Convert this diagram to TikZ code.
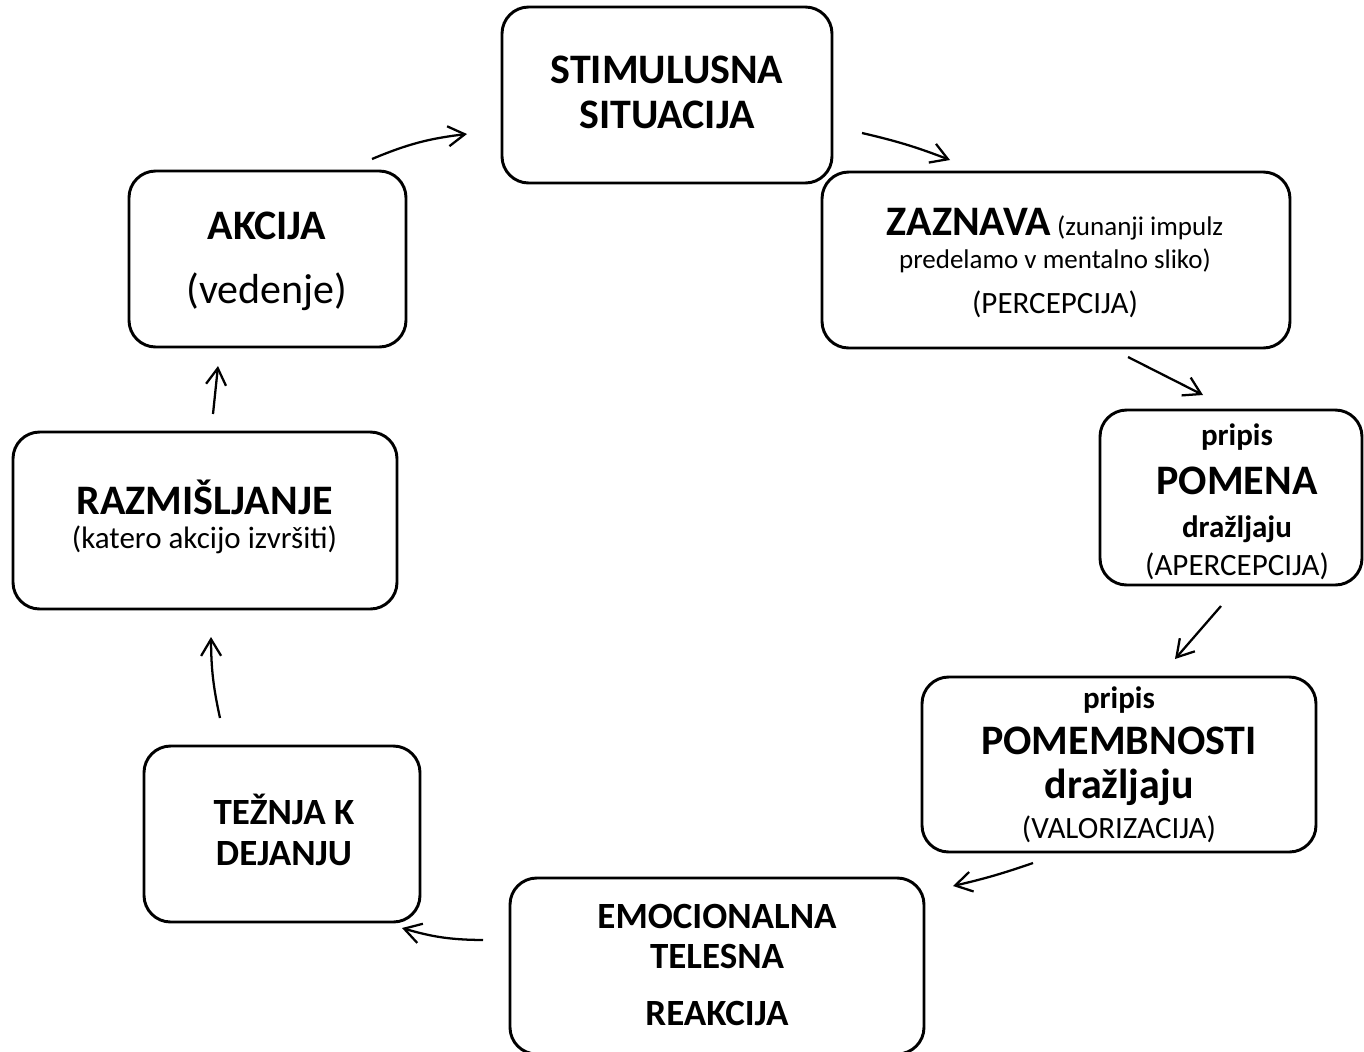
\documentclass[tikz,border=0pt]{standalone}
\usepackage{fontspec}
\setmainfont{Carlito}
\usetikzlibrary{arrows.meta}
\begin{document}
\begin{tikzpicture}[x=0.75pt,y=-0.75pt]
\tikzset{
 box/.style={draw, line width=2.2pt, rounded corners=20pt, inner sep=0pt},
 txt/.style={anchor=base, inner sep=0pt},
 bigb/.style={txt, font=\fontsize{31.5}{36}\selectfont\bfseries},
 midb/.style={txt, font=\fontsize{27.75}{32}\selectfont\bfseries},
 smb/.style={txt, font=\fontsize{23.25}{28}\selectfont\bfseries},
 bigr/.style={txt, font=\fontsize{31.5}{36}\selectfont},
 medr/.style={txt, font=\fontsize{23.25}{28}\selectfont},
 smr/.style={txt, font=\fontsize{20.25}{24}\selectfont},
 conn/.style={line width=1.7pt, -{Straight Barb[length=12.5pt,width=15pt]}},
}
\useasboundingbox (0,0) rectangle (1364,1051);
% boxes
\node[box, minimum width=247.5pt, minimum height=132pt] (stim) at (667,95) {};
\node[box, minimum width=351pt, minimum height=132pt] (zaz) at (1056,260) {};
\node[box, minimum width=196.5pt, minimum height=131.25pt] (pom) at (1231,497.5) {};
\node[box, minimum width=295.5pt, minimum height=131.25pt] (pmb) at (1119,764.5) {};
\node[box, minimum width=310.5pt, minimum height=132pt] (emo) at (717,966) {};
\node[box, minimum width=207pt, minimum height=132pt] (tez) at (282,834) {};
\node[box, minimum width=288pt, minimum height=132.75pt] (raz) at (205,520.5) {};
\node[box, minimum width=207.75pt, minimum height=132pt] (akc) at (267.5,259) {};
% texts
\node[bigb] (stimA) at (667,83) {STIMULUSNA};
\node[bigb] (stimB) at (667,128) {SITUACIJA};
\node[txt] (zazA) at (1055,235) {{\fontsize{31.5}{36}\selectfont\bfseries ZAZNAVA}{\fontsize{20.25}{24}\selectfont\ (zunanji impulz}};
\node[smr] (zazB) at (1055,268) {predelamo v mentalno sliko)};
\node[medr] (zazC) at (1055,313) {(PERCEPCIJA)};
\node[smb] (pomA) at (1237,445) {pripis};
\node[bigb] (pomB) at (1237,494) {POMENA};
\node[smb] (pomC) at (1237,537) {dražljaju};
\node[medr] (pomD) at (1237,575) {(APERCEPCIJA)};
\node[smb] (pmbA) at (1119,708) {pripis};
\node[bigb] (pmbB) at (1119,754) {POMEMBNOSTI};
\node[bigb] (pmbC) at (1119,798) {dražljaju};
\node[medr] (pmbD) at (1119,838) {(VALORIZACIJA)};
\node[midb] (emoA) at (717,928) {EMOCIONALNA};
\node[midb] (emoB) at (717,968) {TELESNA};
\node[midb] (emoC) at (717,1025) {REAKCIJA};
\node[midb] (tezA) at (284,824) {TEŽNJA K};
\node[midb] (tezB) at (284,865) {DEJANJU};
\node[bigb] (razA) at (204.5,514) {RAZMIŠLJANJE};
\node[medr] (razB) at (204.5,548) {(katero akcijo izvršiti)};
\node[bigb] (akcA) at (267,239) {AKCIJA};
\node[bigr] (akcB) at (267,303) {(vedenje)};
% connector end points
\coordinate (a1s) at (372,159); \coordinate (a1e) at (467,134);
\coordinate (a2s) at (862,133); \coordinate (a2e) at (950,160);
\coordinate (a3s) at (1128,357); \coordinate (a3e) at (1203,395);
\coordinate (a4s) at (1221,606); \coordinate (a4e) at (1175,659);
\coordinate (a5s) at (1033,863); \coordinate (a5e) at (953,886);
\coordinate (a6s) at (483,940); \coordinate (a6e) at (402,928);
\coordinate (a7s) at (220,718); \coordinate (a7e) at (211,637);
\coordinate (a8s) at (213,414); \coordinate (a8e) at (218,366);
% connectors
\draw[conn] (a1s) to[bend left=8] (a1e);
\draw[conn] (a2s) to[bend left=4] (a2e);
\draw[conn] (a3s) -- (a3e);
\draw[conn] (a4s) -- (a4e);
\draw[conn] (a5s) to[bend left=3] (a5e);
\draw[conn] (a6s) to[bend left=8] (a6e);
\draw[conn] (a7s) to[bend left=6] (a7e);
\draw[conn] (a8s) -- (a8e);
\end{tikzpicture}
\end{document}
